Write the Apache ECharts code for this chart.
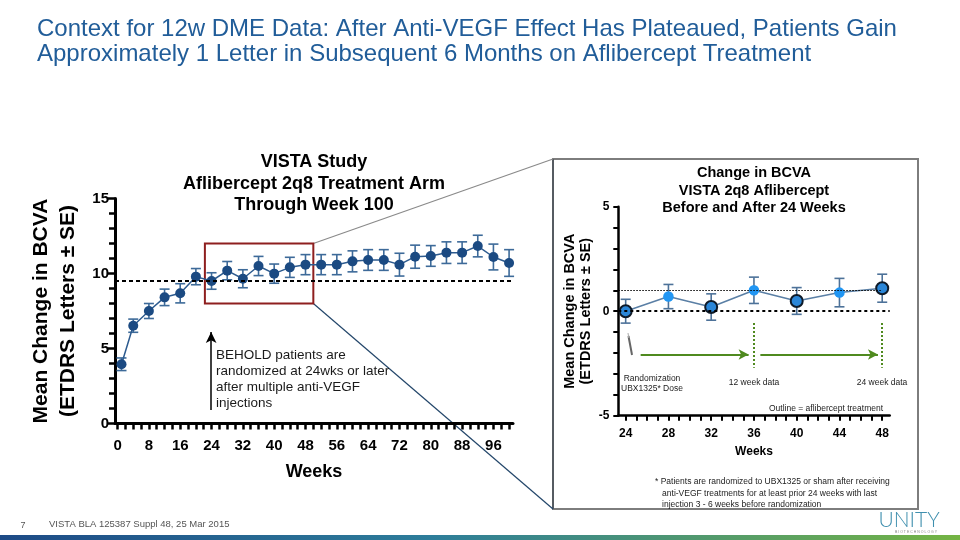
<!DOCTYPE html>
<html>
<head>
<meta charset="utf-8">
<script src="https://cdn.jsdelivr.net/npm/echarts@6/dist/echarts.min.js"></script>
<style>html,body{margin:0;padding:0;background:#fff}#c{width:960px;height:540px}</style>
</head>
<body>
<div id="c"></div>
<script>
// ---- Left chart data (VISTA 2q8 through week 100) ----
const leftWeeks = [1, 4, 8, 12, 16, 20, 24, 28, 32, 36, 40, 44, 48, 52, 56, 60, 64, 68, 72, 76, 80, 84, 88, 92, 96, 100];
const leftMean  = [3.95, 6.52, 7.5, 8.41, 8.68, 9.79, 9.5, 10.19, 9.65, 10.5, 9.99, 10.41, 10.59, 10.59, 10.59, 10.81, 10.9, 10.9, 10.59, 11.12, 11.17, 11.39, 11.39, 11.83, 11.1, 10.7];
const leftSE    = [0.42, 0.44, 0.5, 0.55, 0.64, 0.54, 0.55, 0.61, 0.6, 0.64, 0.64, 0.67, 0.67, 0.67, 0.67, 0.7, 0.69, 0.69, 0.76, 0.77, 0.69, 0.72, 0.72, 0.72, 0.86, 0.89];
const leftXLabels = [0, 8, 16, 24, 32, 40, 48, 56, 64, 72, 80, 88, 96];
const leftXTicks  = [0, 2, 4, 6, 8, 10, 12, 14, 16, 18, 20, 22, 24, 26, 28, 30, 32, 34, 36, 38, 40, 42, 44, 46, 48, 50, 52, 54, 56, 58, 60, 62, 64, 66, 68, 70, 72, 74, 76, 78, 80, 82, 84, 86, 88, 90, 92, 94, 96, 98, 100];
const leftPlateau = 9.52;
const zoomBox = [[22.3, 12], [50, 8]];

// ---- Right chart data (change from week 24) ----
const rightWeeks = [24, 28, 32, 36, 40, 44, 48];
const rightMean  = [0, 0.7, 0.2, 1.0, 0.49, 0.89, 1.1];
const rightSE    = [0.57, 0.58, 0.63, 0.63, 0.64, 0.68, 0.67];
const rightOutlined = [true, false, true, false, true, false, true];
const rightXLabels = [24, 28, 32, 36, 40, 44, 48];
const rightXTicks  = [24,25,26,27,28,29,30,31,32,33,34,35,36,37,38,39,40,41,42,43,44,45,46,47,48];
const rightRef = 1.0;

const FONT = 'Liberation Sans, Arial, sans-serif';

function errBar(color, capW) {
  return function (params, api) {
    const x = api.value(0), lo = api.value(1), hi = api.value(2);
    const a = api.coord([x, lo]), b = api.coord([x, hi]);
    const st = { stroke: color, lineWidth: 1.6 };
    return { type: 'group', children: [
      { type: 'line', shape: { x1: a[0], y1: a[1], x2: b[0], y2: b[1] }, style: st },
      { type: 'line', shape: { x1: a[0] - capW, y1: a[1], x2: a[0] + capW, y2: a[1] }, style: st },
      { type: 'line', shape: { x1: b[0] - capW, y1: b[1], x2: b[0] + capW, y2: b[1] }, style: st }
    ]};
  };
}

const chart = echarts.init(document.getElementById('c'), null, { renderer: 'canvas' });

const axisLine = (w) => ({ show: true, onZero: false, lineStyle: { color: '#000', width: w } });

const option = {
  backgroundColor: '#fff',
  animation: false,
  textStyle: { fontFamily: FONT },
  title: [
    { text: 'Context for 12w DME Data: After Anti-VEGF Effect Has Plateaued, Patients Gain\nApproximately 1 Letter in Subsequent 6 Months on Aflibercept Treatment',
      left: 37, top: 16.5, padding: 0,
      textStyle: { color: '#215d99', fontSize: 24, fontWeight: 'normal', lineHeight: 25.5, fontFamily: FONT } },
    { text: 'VISTA Study\nAflibercept 2q8 Treatment Arm\nThrough Week 100',
      left: 314, top: 151, textAlign: 'center', padding: 0,
      textStyle: { color: '#000', fontSize: 18, fontWeight: 'bold', lineHeight: 21.7, fontFamily: FONT } },
    { text: 'Change in BCVA\nVISTA 2q8 Aflibercept\nBefore and After 24 Weeks',
      left: 754, top: 164.6, textAlign: 'center', padding: 0,
      textStyle: { color: '#000', fontSize: 14.5, fontWeight: 'bold', lineHeight: 17.4, fontFamily: FONT } }
  ],
  grid: [
    { left: 115, top: 198.5, width: 398, height: 225 },
    { left: 618.3, top: 206.7, width: 271.4, height: 209 }
  ],
  xAxis: [
    { gridIndex: 0, type: 'value', min: -0.66, max: 101,
      name: 'Weeks', nameLocation: 'middle', nameGap: 40,
      nameTextStyle: { fontSize: 18, fontWeight: 'bold', color: '#000' },
      axisLine: axisLine(3), splitLine: { show: false },
      axisTick: { show: true, length: 6, lineStyle: { color: '#000', width: 2.5 }, customValues: leftXTicks },
      axisLabel: { fontSize: 15, fontWeight: 'bold', color: '#000', margin: 15, customValues: leftXLabels } },
    { gridIndex: 1, type: 'value', min: 23.31, max: 48.7,
      name: 'Weeks', nameLocation: 'middle', nameGap: 30,
      nameTextStyle: { fontSize: 12, fontWeight: 'bold', color: '#000' },
      axisLine: axisLine(2.5), splitLine: { show: false },
      axisTick: { show: true, length: 5, lineStyle: { color: '#000', width: 2 }, customValues: rightXTicks },
      axisLabel: { fontSize: 12, fontWeight: 'bold', color: '#000', margin: 11.5, customValues: rightXLabels } }
  ],
  yAxis: [
    { gridIndex: 0, type: 'value', min: 0, max: 15, interval: 5,
      name: 'Mean Change in BCVA\n(ETDRS Letters ± SE)', nameLocation: 'middle', nameRotate: 90, nameGap: 33,
      nameTextStyle: { fontSize: 21, fontWeight: 'bold', color: '#000', lineHeight: 27 },
      axisLine: axisLine(3), splitLine: { show: false },
      axisTick: { show: true, length: 7, lineStyle: { color: '#000', width: 2.5 } },
      minorTick: { show: true, splitNumber: 5, length: 6, lineStyle: { color: '#000', width: 2.5 } },
      axisLabel: { fontSize: 15, fontWeight: 'bold', color: '#000', margin: 6 } },
    { gridIndex: 1, type: 'value', min: -5, max: 5, interval: 5,
      name: 'Mean Change in BCVA\n(ETDRS Letters ± SE)', nameLocation: 'middle', nameRotate: 90, nameGap: 23,
      nameTextStyle: { fontSize: 14.5, fontWeight: 'bold', color: '#000', lineHeight: 16.5 },
      axisLine: axisLine(2.5), splitLine: { show: false },
      axisTick: { show: true, length: 5, lineStyle: { color: '#000', width: 2 } },
      minorTick: { show: true, splitNumber: 5, length: 5, lineStyle: { color: '#000', width: 2 } },
      axisLabel: { fontSize: 12, fontWeight: 'bold', color: '#000', margin: 9 } }
  ],
  series: [
    { type: 'custom', xAxisIndex: 0, yAxisIndex: 0, z: 2,
      renderItem: errBar('#3d6a99', 5),
      data: leftWeeks.map((w, i) => [w, leftMean[i] - leftSE[i], leftMean[i] + leftSE[i]]) },
    { type: 'line', xAxisIndex: 0, yAxisIndex: 0, z: 3,
      data: leftWeeks.map((w, i) => [w, leftMean[i]]),
      symbol: 'circle', symbolSize: 10,
      lineStyle: { color: '#2d5b8f', width: 1.5 },
      itemStyle: { color: '#1b4a82' },
      markLine: { silent: true, symbol: 'none', label: { show: false },
        data: [
          { yAxis: leftPlateau, lineStyle: { color: '#000', width: 2, type: [4, 3] } },
          [ { coord: [23.9, 0.9], symbol: 'none' }, { coord: [23.9, 6.1], symbol: 'arrow', symbolSize: [8, 11] } ]
        ],
        lineStyle: { color: '#000', width: 1.5, type: 'solid' } },
      markArea: { silent: true,
        itemStyle: { color: 'rgba(0,0,0,0)', borderColor: '#8e1f1f', borderWidth: 2 },
        data: [[ { coord: zoomBox[0] }, { coord: zoomBox[1] } ]] } },
    { type: 'custom', xAxisIndex: 1, yAxisIndex: 1, z: 2,
      renderItem: errBar('#4d7299', 5),
      data: rightWeeks.map((w, i) => [w, rightMean[i] - rightSE[i], rightMean[i] + rightSE[i]]) },
    { type: 'line', xAxisIndex: 1, yAxisIndex: 1, z: 3,
      data: rightWeeks.map((w, i) => ({
        value: [w, rightMean[i]],
        symbolSize: rightOutlined[i] ? 12 : 10.5,
        itemStyle: rightOutlined[i]
          ? { color: '#2a86d8', borderColor: '#0e1a28', borderWidth: 2 }
          : { color: '#2196f3', borderWidth: 0 }
      })),
      symbol: 'circle',
      lineStyle: { color: '#5a7fa5', width: 1.5 },
      markLine: { silent: true, symbol: 'none', label: { show: false },
        data: [
          { yAxis: 0, lineStyle: { color: '#000', width: 1.8, type: [3, 3] } },
          [ { coord: [23.31, rightRef], lineStyle: { color: '#000', width: 1, type: [1.5, 1.5] } }, { coord: [48, rightRef] } ],
          [ { coord: [36, -0.56], lineStyle: { color: '#4f8a1f', width: 2, type: [2, 2] } }, { coord: [36, -2.71] } ],
          [ { coord: [48, -0.56], lineStyle: { color: '#4f8a1f', width: 2, type: [2, 2] } }, { coord: [48, -2.71] } ],
          [ { coord: [25.4, -2.07], lineStyle: { color: '#4f8a1f', width: 2.2, type: 'solid' } }, { coord: [35.5, -2.07], symbol: 'arrow', symbolSize: [8, 10] } ],
          [ { coord: [36.6, -2.07], lineStyle: { color: '#4f8a1f', width: 2.2, type: 'solid' } }, { coord: [47.6, -2.07], symbol: 'arrow', symbolSize: [8, 10] } ]
        ] } }
  ]
};

chart.setOption(option);

// Connector lines and annotations
const tr = chart.convertToPixel({ gridIndex: 0 }, [zoomBox[1][0], zoomBox[0][1]]);
const br = chart.convertToPixel({ gridIndex: 0 }, [zoomBox[1][0], zoomBox[1][1]]);
const panel = { x: 553, y: 159, w: 365, h: 350 };
const small = (t, x, y, size, align) => ({ type: 'text', silent: true, style: {
  text: t, x: x, y: y, fill: '#222', font: size + 'px ' + FONT, align: align || 'center', verticalAlign: 'middle', lineHeight: size + 2 } });

chart.setOption({ graphic: [
  { type: 'rect', silent: true, z: 0, shape: { x: panel.x, y: panel.y, width: panel.w, height: panel.h },
    style: { fill: 'rgba(0,0,0,0)', stroke: '#7d7d7d', lineWidth: 2 } },
  { type: 'line', silent: true, shape: { x1: panel.x, y1: panel.y, x2: panel.x, y2: panel.y + panel.h }, style: { stroke: '#3c4650', lineWidth: 1.2 } },
  { type: 'line', silent: true, shape: { x1: tr[0], y1: tr[1], x2: panel.x, y2: panel.y }, style: { stroke: '#8a8a8a', lineWidth: 1.2 } },
  { type: 'line', silent: true, shape: { x1: br[0], y1: br[1], x2: panel.x, y2: panel.y + panel.h }, style: { stroke: '#23466a', lineWidth: 1.2 } },
  { type: 'text', silent: true, style: { text: 'BEHOLD patients are\nrandomized at 24wks or later\nafter multiple anti-VEGF\ninjections',
      x: 216, y: 347, fill: '#1a1a1a', font: '13.5px ' + FONT, lineHeight: 16.2, verticalAlign: 'top' } },
  // syringe icon
  { type: 'line', silent: true, shape: { x1: 628.5, y1: 336, x2: 632, y2: 355 }, style: { stroke: '#666', lineWidth: 2 } },
  { type: 'line', silent: true, shape: { x1: 628, y1: 333, x2: 628.8, y2: 338 }, style: { stroke: '#aaa', lineWidth: 1 } },
  small('Randomization\nUBX1325* Dose', 652, 383.5, 8.5),
  small('12 week data', 754, 382.7, 8.5),
  small('24 week data', 882, 382.7, 8.5),
  small('Outline = aflibercept treatment', 826, 408.3, 8.5),
  { type: 'text', silent: true, style: { text: '* Patients are randomized to UBX1325 or sham after receiving\n   anti-VEGF treatments for at least prior 24 weeks with last\n   injection 3 - 6 weeks before randomization',
      x: 655, y: 476, fill: '#222', font: '8.5px ' + FONT, lineHeight: 11.5, verticalAlign: 'top' } },
  // footer
  { type: 'text', silent: true, style: { text: '7', x: 23, y: 526, fill: '#555', font: '9px ' + FONT, align: 'center', verticalAlign: 'middle' } },
  { type: 'text', silent: true, style: { text: 'VISTA BLA 125387 Suppl 48, 25 Mar 2015', x: 49, y: 524, fill: '#555', font: '9.5px ' + FONT, verticalAlign: 'middle' } },
  { type: 'text', silent: true, style: { text: 'UNITY', x: 909, y: 520, fill: '#3f8fae', font: '300 21px Lato, ' + FONT, align: 'center', verticalAlign: 'middle' } },
  { type: 'text', silent: true, style: { text: 'B I O T E C H N O L O G Y', x: 916, y: 532, fill: '#888', font: '3.5px ' + FONT, align: 'center', verticalAlign: 'middle' } },
  { type: 'rect', silent: true, shape: { x: 0, y: 535, width: 960, height: 5 },
    style: { fill: new echarts.graphic.LinearGradient(0, 0, 1, 0, [
      { offset: 0, color: '#1d4a86' }, { offset: 0.45, color: '#2d7d9a' }, { offset: 1, color: '#74b443' } ]) } }
] });
</script>
</body>
</html>
